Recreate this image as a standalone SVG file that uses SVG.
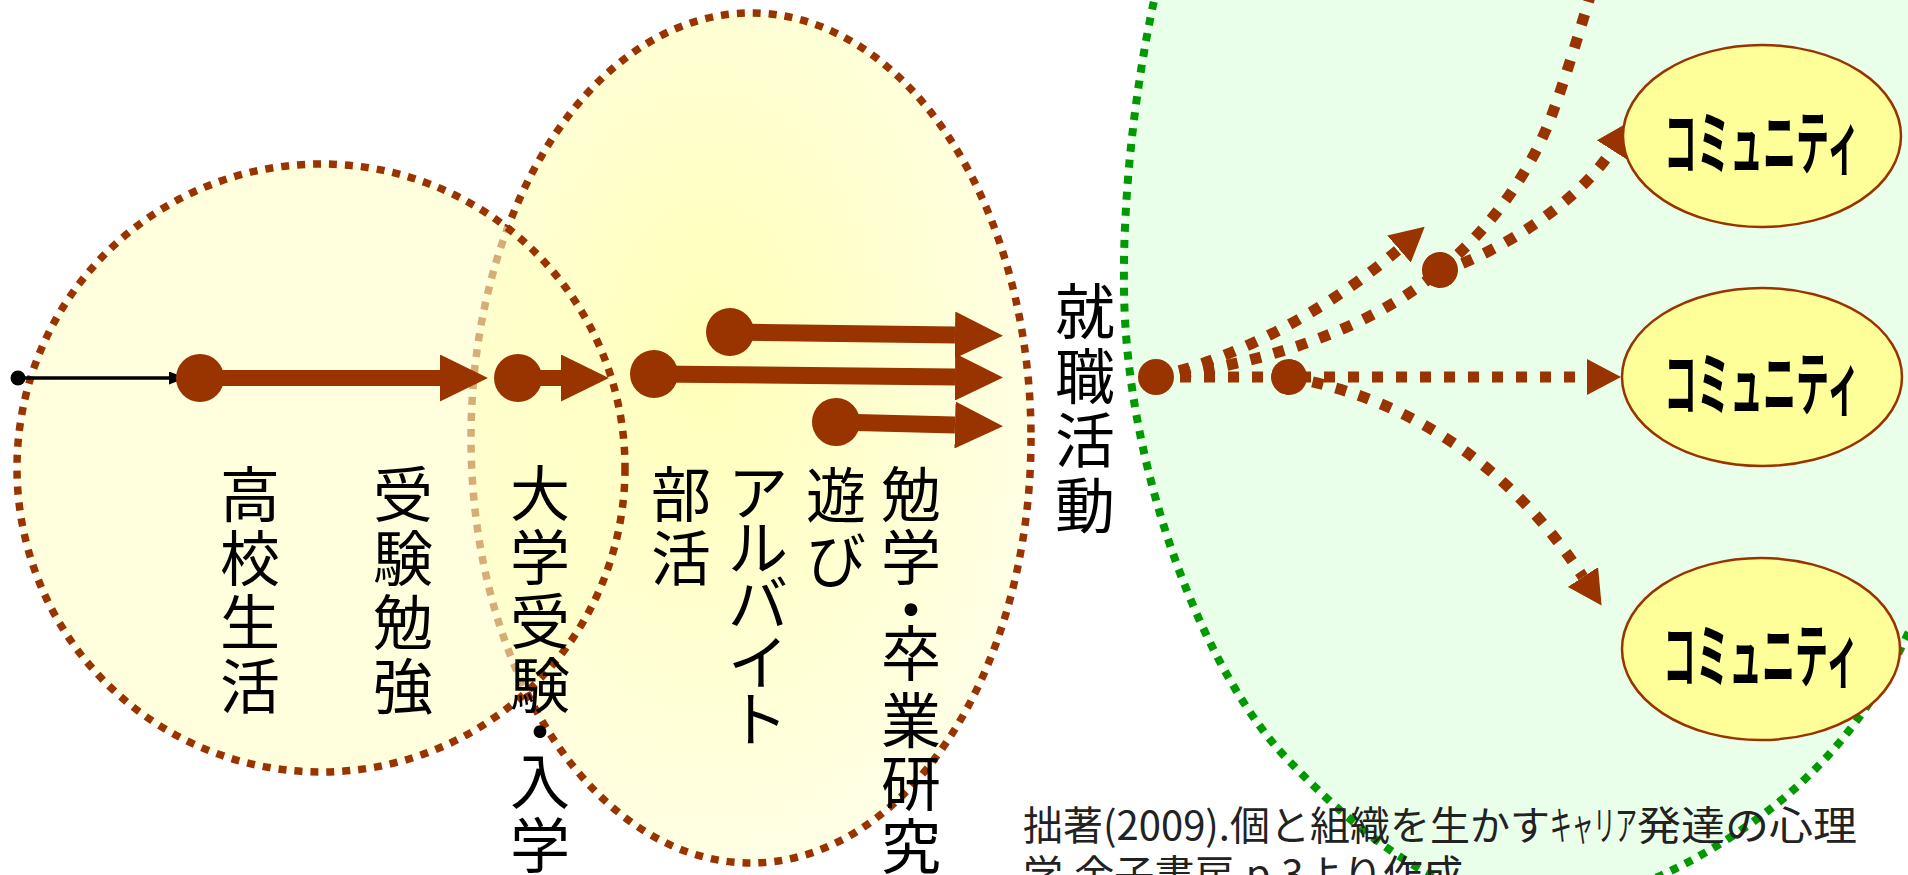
<svg xmlns="http://www.w3.org/2000/svg" width="1908" height="875" viewBox="0 0 1908 875">
<style>
.stage{stroke:#993300;stroke-width:7.5;stroke-dasharray:8 8}
.jp{font-family:"Noto Sans CJK JP","Noto Sans CJK SC",sans-serif}
.vt{font-size:60px;fill:#000;text-anchor:middle}
.big{stroke:#993300;fill:none}
.dotl{stroke:#993300;stroke-width:11;stroke-dasharray:11 13;fill:none}
.comm{fill:#FFFF99;stroke:#993300;stroke-width:2.5}
.ct{font-size:70px;font-weight:bold;text-anchor:middle;fill:#000}
.cite{font-size:40px;fill:#222}
</style>
<defs>
<radialGradient id="gU" cx="0.42" cy="0.4" r="0.62">
<stop offset="0" stop-color="#FFFFB8"/>
<stop offset="1" stop-color="#FFFFE6"/>
</radialGradient>
<marker id="bigTri" markerUnits="userSpaceOnUse" viewBox="0 0 48 47" markerWidth="48" markerHeight="47" refX="0" refY="23.5" orient="auto">
<polygon points="0,0 48,23.5 0,47" fill="#993300"/>
</marker>
<marker id="bigDot" markerUnits="userSpaceOnUse" viewBox="-24 -24 48 48" markerWidth="48" markerHeight="48" refX="0" refY="0" orient="auto">
<circle r="24" fill="#993300"/>
</marker>
<marker id="sTri" markerUnits="userSpaceOnUse" viewBox="0 0 34 36" markerWidth="34" markerHeight="36" refX="0" refY="18" orient="auto">
<polygon points="0,0 34,18 0,36" fill="#993300"/>
</marker>
<marker id="sDot" markerUnits="userSpaceOnUse" viewBox="-18 -18 36 36" markerWidth="36" markerHeight="36" refX="0" refY="0" orient="auto">
<circle r="18" fill="#993300"/>
</marker>
<marker id="kTri" markerUnits="userSpaceOnUse" viewBox="0 0 17 13" markerWidth="17" markerHeight="13" refX="0" refY="6.5" orient="auto">
<polygon points="0,0 17,6.5 0,13" fill="#000"/>
</marker>
<marker id="kDot" markerUnits="userSpaceOnUse" viewBox="-8 -8 16 16" markerWidth="16" markerHeight="16" refX="0" refY="0" orient="auto">
<circle r="7.5" fill="#000"/>
</marker>
</defs>

<g id="stage-work">
<path d="M1170,-60 C1150,0 1122,150 1124,290 C1126,470 1205,680 1295,767 C1380,855 1460,905 1545,905 C1630,905 1740,840 1802,782 C1850,737 1880,690 1900,650 C1930,590 1960,520 1980,450 L1990,-60 Z" fill="#EAFFEA" stroke="#009900" stroke-width="8" stroke-dasharray="8 8"/>
</g>

<g id="stage-university">
<ellipse cx="751" cy="438" rx="280" ry="425" fill="url(#gU)" class="stage"/>
<text class="jp vt"><tspan x="681" y="517">部</tspan><tspan x="681" y="581">活</tspan></text>
<text class="jp vt"><tspan x="758" y="515">ア</tspan><tspan x="758" y="570">ル</tspan><tspan x="758" y="626">バ</tspan><tspan x="758" y="685">イ</tspan><tspan x="758" y="742">ト</tspan></text>
<text class="jp vt"><tspan x="836" y="518">遊</tspan><tspan x="836" y="583">び</tspan></text>
<text class="jp vt"><tspan x="911" y="517">勉</tspan><tspan x="911" y="580">学</tspan><tspan x="911" y="633">・</tspan><tspan x="911" y="676">卒</tspan><tspan x="911" y="743">業</tspan><tspan x="911" y="806">研</tspan><tspan x="911" y="869">究</tspan></text>
</g>

<g id="stage-highschool">
<circle cx="321" cy="468" r="304" fill="#FFFFC6" fill-opacity="0.6" class="stage"/>
<text class="jp vt"><tspan x="250" y="517">高</tspan><tspan x="250" y="581">校</tspan><tspan x="250" y="645">生</tspan><tspan x="250" y="709">活</tspan></text>
<text class="jp vt"><tspan x="403" y="517">受</tspan><tspan x="403" y="581">験</tspan><tspan x="403" y="645">勉</tspan><tspan x="403" y="709">強</tspan></text>
</g>

<g id="label-entrance">
<text class="jp vt"><tspan x="540" y="516">大</tspan><tspan x="540" y="580">学</tspan><tspan x="540" y="644">受</tspan><tspan x="540" y="708">験</tspan><tspan x="540" y="755">・</tspan><tspan x="540" y="804">入</tspan><tspan x="540" y="868">学</tspan></text>
</g>

<g id="label-jobhunt">
<text class="jp vt"><tspan x="1085" y="334">就</tspan><tspan x="1085" y="399">職</tspan><tspan x="1085" y="463">活</tspan><tspan x="1085" y="528">動</tspan></text>
</g>

<g id="connectors">
<path d="M18,378 L169,378" stroke="#000" stroke-width="3.5" fill="none" marker-start="url(#kDot)" marker-end="url(#kTri)"/>
<path class="big" stroke-width="16" d="M200,378 L440,378" marker-start="url(#bigDot)" marker-end="url(#bigTri)"/>
<path class="big" stroke-width="16" d="M518,378 L561,378" marker-start="url(#bigDot)" marker-end="url(#bigTri)"/>
<path class="big" stroke-width="17" d="M730,332 L955,335" marker-start="url(#bigDot)" marker-end="url(#bigTri)"/>
<path class="big" stroke-width="17" d="M654,374 L955,377" marker-start="url(#bigDot)" marker-end="url(#bigTri)"/>
<path class="big" stroke-width="17" d="M836,422 L955,425" marker-start="url(#bigDot)" marker-end="url(#bigTri)"/>
<path class="dotl" d="M1156,377 L1587,377" marker-start="url(#sDot)" marker-end="url(#sTri)"/>
<path class="dotl" d="M1156,377 C1250,355 1340,300 1399,249" marker-end="url(#sTri)"/>
<path class="dotl" d="M1156,377 C1260,365 1370,330 1440,270"/>
<path class="dotl" d="M1440,272 C1505,250 1580,200 1612,150" marker-end="url(#sTri)"/>
<path class="dotl" d="M1440,270 C1495,225 1530,170 1550,120 C1565,80 1580,30 1592,-10" marker-start="url(#sDot)"/>
<path class="dotl" d="M1289,377 C1390,395 1500,450 1583,577" marker-start="url(#sDot)" marker-end="url(#sTri)"/>
</g>

<g id="community-1">
<ellipse class="comm" cx="1762" cy="136" rx="139" ry="91"/>
<text class="jp ct" x="1762" y="169" textLength="196" lengthAdjust="spacingAndGlyphs">コミュニティ</text>
</g>
<g id="community-2">
<ellipse class="comm" cx="1762" cy="377" rx="140" ry="89"/>
<text class="jp ct" x="1762" y="410" textLength="196" lengthAdjust="spacingAndGlyphs">コミュニティ</text>
</g>
<g id="community-3">
<ellipse class="comm" cx="1761" cy="649" rx="139" ry="91"/>
<text class="jp ct" x="1761" y="682" textLength="196" lengthAdjust="spacingAndGlyphs">コミュニティ</text>
</g>

<g id="citation">
<text class="jp cite" y="840"><tspan x="1023" textLength="527" lengthAdjust="spacingAndGlyphs">拙著(2009).個と組織を生かす</tspan><tspan x="1550" textLength="87" lengthAdjust="spacingAndGlyphs">キャリア</tspan><tspan x="1637" textLength="220" lengthAdjust="spacingAndGlyphs">発達の心理</tspan></text>
<text class="jp cite" x="1023" y="889" textLength="440" lengthAdjust="spacingAndGlyphs">学.金子書房.p.3より作成</text>
</g>
</svg>
